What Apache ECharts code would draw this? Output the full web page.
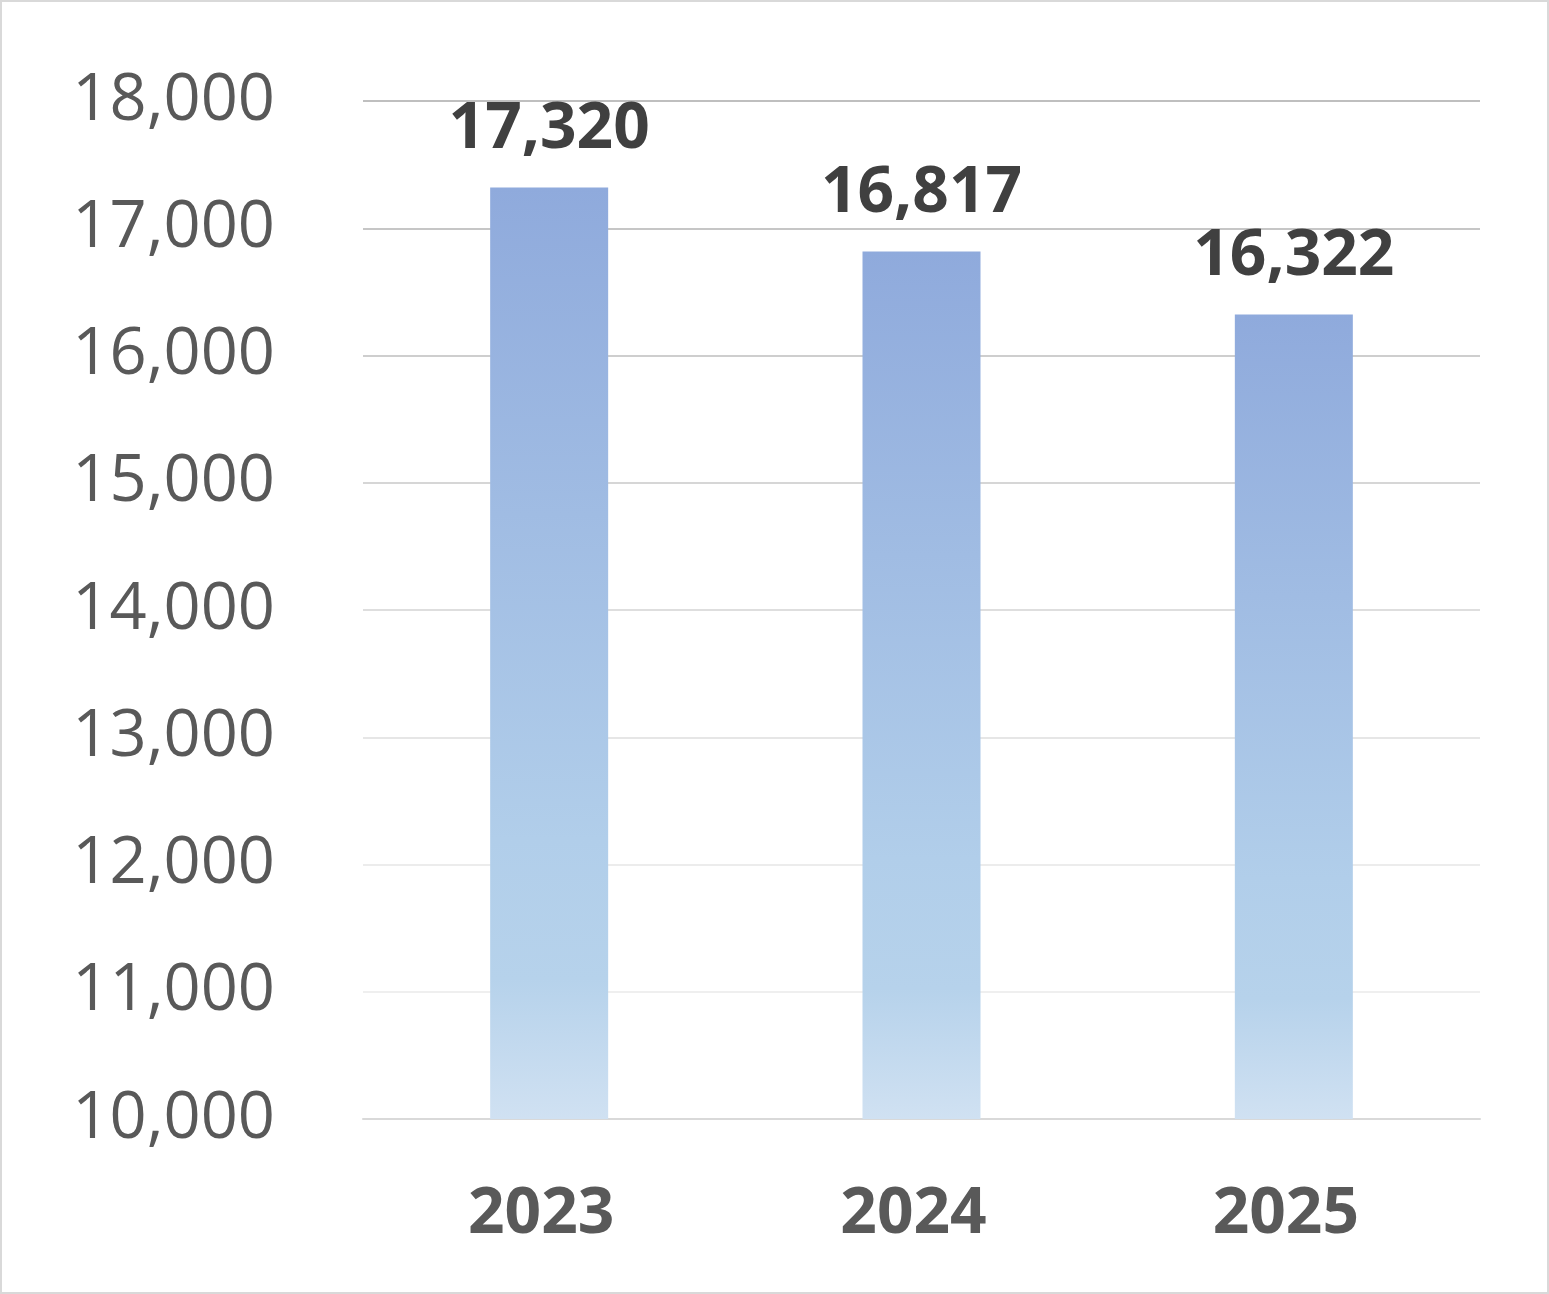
<!DOCTYPE html>
<html>
<head>
<meta charset="utf-8">
<script src="https://cdn.jsdelivr.net/npm/echarts@6/dist/echarts.min.js"></script>
<style>
html,body{margin:0;padding:0;background:#fff;}
#chart{width:1549px;height:1294px;}
</style>
</head>
<body>
<div id="chart"></div>
<script>
const categories = ['2023', '2024', '2025'];
const values = [17320, 16817, 16322];
const yMin = 10000, yMax = 18000, yStep = 1000;

const gridColors = ['#d9d9d9', '#efefef', '#ececec', '#e6e6e6', '#dedede', '#d6d6d6', '#cecece', '#c6c6c6', '#bfbfbf'];

const chart = echarts.init(document.getElementById('chart'));
chart.setOption({
  backgroundColor: '#ffffff',
  animation: false,
  graphic: [{
    type: 'rect',
    shape: { x: 1, y: 1, width: 1547, height: 1292 },
    style: { fill: 'none', stroke: '#d9d9d9', lineWidth: 2 },
    silent: true
  }],
  grid: { left: 363, right: 69, top: 101, bottom: 175, containLabel: false },
  xAxis: {
    type: 'category',
    data: categories,
    axisLine: { show: true, lineStyle: { color: '#d9d9d9', width: 2 } },
    axisTick: { show: false },
    axisLabel: {
      margin: 64,
      padding: [0, 16, 0, 0],
      color: '#595959',
      fontFamily: 'Open Sans',
      fontWeight: 'bold',
      fontSize: 64
    }
  },
  yAxis: {
    type: 'value',
    min: yMin,
    max: yMax,
    interval: yStep,
    axisLine: { show: false },
    axisTick: { show: false },
    splitLine: { show: true, lineStyle: { color: gridColors, width: 2 } },
    axisLabel: {
      margin: 88,
      padding: [9, 0, 0, 0],
      color: '#595959',
      fontFamily: 'Open Sans',
      fontSize: 65,
      formatter: v => v.toLocaleString('en-US')
    }
  },
  series: [{
    type: 'bar',
    data: values,
    barWidth: 118,
    itemStyle: {
      color: {
        type: 'linear', x: 0, y: 0, x2: 0, y2: 1,
        colorStops: [
          { offset: 0, color: '#8faadc' },
          { offset: 0.7, color: '#b1ceea' },
          { offset: 0.85, color: '#b6d2eb' },
          { offset: 1, color: '#d0e1f2' }
        ]
      }
    },
    label: {
      show: true,
      position: 'top',
      distance: 26,
      color: '#404040',
      fontFamily: 'Open Sans',
      fontWeight: 'bold',
      fontSize: 64,
      formatter: p => p.value.toLocaleString('en-US')
    }
  }]
});
</script>
</body>
</html>
